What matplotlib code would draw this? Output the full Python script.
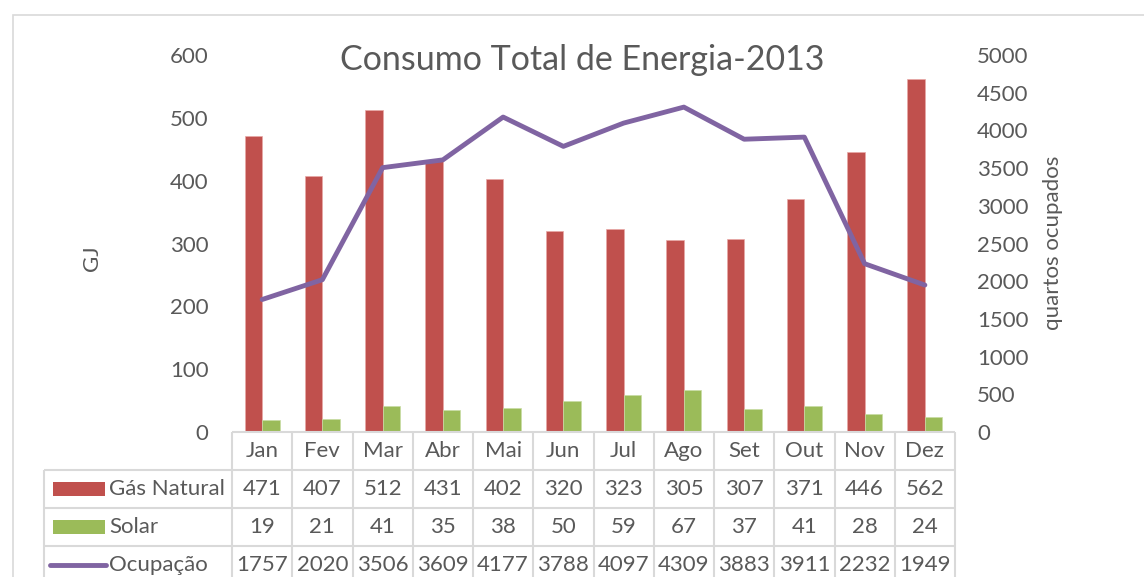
import numpy as np
import matplotlib
matplotlib.use("Agg")
import matplotlib.pyplot as plt
from matplotlib.patches import Rectangle

# data
months = ['Jan', 'Fev', 'Mar', 'Abr', 'Mai', 'Jun', 'Jul', 'Ago', 'Set', 'Out', 'Nov', 'Dez']
gas_natural = [471, 407, 512, 431, 402, 320, 323, 305, 307, 371, 446, 562]
solar = [19, 21, 41, 35, 38, 50, 59, 67, 37, 41, 28, 24]
ocupacao = [1757, 2020, 3506, 3609, 4177, 3788, 4097, 4309, 3883, 3911, 2232, 1949]
series_names = ['Gás Natural', 'Solar', 'Ocupação']

RED = '#C0504D'
GREEN = '#9BBB59'
PURPLE = '#8064A2'
TXT = '#595959'
GRID = '#D9D9D9'

plt.rcParams['font.family'] = ['Lato', 'DejaVu Sans']

W, H = 1144, 577
fig = plt.figure(figsize=(W / 100, H / 100), dpi=100)

def fx(px):
    return px / W

def fy(py):
    return 1 - py / H

# outer chart frame
fig.add_artist(Rectangle((fx(13), fy(600)), 1.2, (600 - 15) / H, transform=fig.transFigure,
                         fill=False, edgecolor=GRID, lw=1.2, clip_on=False))

# plot area
x0, x1, ytop, ybot = 232, 955, 55, 432
ax = fig.add_axes([fx(x0), fy(ybot), (x1 - x0) / W, (ybot - ytop) / H])
x = np.arange(len(months))
bw = 0.29
ax.bar(x - bw / 2, gas_natural, bw, color=RED, edgecolor='#E8A8A6', lw=0.5)
ax.bar(x + bw / 2, solar, bw, color=GREEN, edgecolor='#C9DCA5', lw=0.5)
ax.set_xlim(-0.5, len(months) - 0.5)
ax.set_ylim(0, 600)
ax.set_yticks(range(0, 601, 100))
ax.set_xticks([])
ax.tick_params(axis='y', length=0, pad=17, labelsize=16, labelcolor=TXT)
for s in ax.spines.values():
    s.set_visible(False)

ax2 = ax.twinx()
ax2.plot(x, ocupacao, color=PURPLE, lw=3.5, solid_capstyle='round', solid_joinstyle='round')
ax2.set_ylim(0, 5000)
ax2.set_yticks(range(0, 5001, 500))
ax2.tick_params(axis='y', length=0, pad=16, labelsize=16, labelcolor=TXT)
for s in ax2.spines.values():
    s.set_visible(False)

fig.text(fx(582), fy(60), 'Consumo Total de Energia-2013', ha='center', va='center',
         fontsize=24.5, color=TXT)
fig.text(fx(92), fy(258), 'GJ', rotation=90, ha='center', va='center', fontsize=16, color=TXT)
fig.text(fx(1053), fy(243), 'quartos ocupados', rotation=90, ha='center', va='center',
         fontsize=16, color=TXT)

# data table below the plot
tleft = 44
row_h = 38
ncols = len(months)
colw = (x1 - x0) / ncols
lab_w = (x0 - tleft) / colw
nrows = 4
tab = fig.add_axes([fx(tleft), fy(ybot + nrows * row_h), (x1 - tleft) / W, nrows * row_h / H])
tab.set_xlim(-0.5 - lab_w, ncols - 0.5)
tab.set_ylim(nrows, 0)
tab.axis('off')

lkw = dict(color=GRID, lw=1.5, clip_on=False)
# header row: only over month columns
tab.hlines(0, -0.5, ncols - 0.5, **lkw)
for r in range(1, nrows + 1):
    tab.hlines(r, -0.5 - lab_w, ncols - 0.5, **lkw)
for c in range(ncols + 1):
    tab.vlines(c - 0.5, 0, nrows, **lkw)
tab.vlines(-0.5 - lab_w, 1, nrows, **lkw)

for i, m in enumerate(months):
    tab.text(i, 0.5, m, ha='center', va='center', fontsize=16, color=TXT)

rows = [gas_natural, solar, ocupacao]
for r, vals in enumerate(rows):
    for i, v in enumerate(vals):
        tab.text(i, r + 1.5, str(v), ha='center', va='center', fontsize=16, color=TXT)

# legend keys in the row labels
key_l = -0.5 - lab_w + 9 / colw
key_r = key_l + 52 / colw
colors = [RED, GREEN, PURPLE]
for r, (name, col) in enumerate(zip(series_names, colors)):
    yc = r + 1.5
    if r < 2:
        tab.add_patch(Rectangle((key_l, yc - 0.19), key_r - key_l, 0.37, color=col, lw=0))
    else:
        tab.plot([key_l - 3 / colw, key_r + 1 / colw], [yc, yc], color=col, lw=3.5,
                 solid_capstyle='round', clip_on=False)
    tab.text(key_r + 4 / colw, yc, name, ha='left', va='center', fontsize=16, color=TXT)

fig.savefig('out.png', dpi=100)
